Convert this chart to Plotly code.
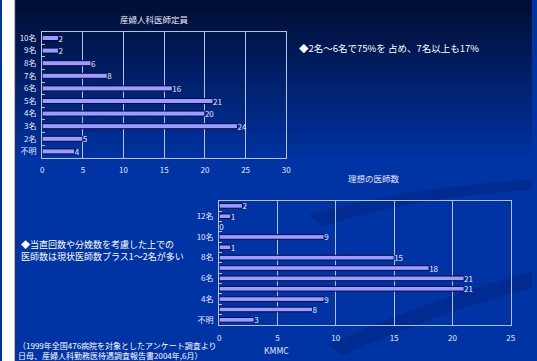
import plotly.graph_objects as go

W, H = 537, 361

# Chart 1: 産婦人科医師定員
cats1 = ["不明", "2名", "3名", "4名", "5名", "6名", "7名", "8名", "9名", "10名"]
vals1 = [4, 5, 24, 20, 21, 16, 8, 6, 2, 2]

# Chart 2: 理想の医師数
cats2 = ["不明", "3名", "4名", "5名", "6名", "7名", "8名", "9名", "10名", "11名", "12名", "13名以上"]
vals2 = [3, 8, 9, 21, 21, 18, 15, 1, 9, 0, 1, 2]
ticktext2 = ["不明", "", "4名", "", "6名", "", "8名", "", "10名", "", "12名", ""]

FONT = "Noto Sans CJK JP"
BAR = "#9c9cff"
BAR_LINE = "#0a0a40"
GRID = "#b8c0e8"
TXT = "#e8e8f8"

def px(x):
    return x / W

def py(y):
    return 1 - y / H

fig = go.Figure()
fig.add_trace(go.Bar(
    y=cats1, x=vals1, orientation="h", width=0.4,
    marker=dict(color=BAR, line=dict(color=BAR_LINE, width=1)),
    text=[str(v) for v in vals1], textposition="outside", cliponaxis=False,
    constraintext="none",
    textfont=dict(color=TXT, size=8, family=FONT),
    xaxis="x", yaxis="y", showlegend=False, hoverinfo="skip"))
fig.add_trace(go.Bar(
    y=cats2, x=vals2, orientation="h", width=0.45,
    marker=dict(color=BAR, line=dict(color=BAR_LINE, width=1)),
    text=[str(v) for v in vals2], textposition="outside", cliponaxis=False,
    constraintext="none",
    textfont=dict(color=TXT, size=8, family=FONT),
    xaxis="x2", yaxis="y2", showlegend=False, hoverinfo="skip"))

# background gradient
shapes = []
def lerp(a, b, t):
    return int(round(a + (b - a) * t))
c0 = (0x00, 0x0e, 0x33)
c1 = (0x00, 0x31, 0x9e)
step = 6
for y in range(0, H, step):
    t = min(1.0, y / 150.0)
    c = tuple(lerp(c0[i], c1[i], t) for i in range(3))
    if y > 150:
        c = (0x00, 0x33, 0xa3)
    shapes.append(dict(type="rect", xref="paper", yref="paper", layer="below",
                       x0=0, x1=1, y0=py(min(H, y + step + 1)), y1=py(y),
                       fillcolor="rgb(%d,%d,%d)" % c, line=dict(width=0)))
# swoosh decoration
shapes.append(dict(type="path", xref="paper", yref="paper", layer="below",
                   path="M %f %f Q %f %f %f %f L %f %f Q %f %f %f %f Z" % (
                       px(310), py(215), px(420), py(185), px(537), py(180),
                       px(537), py(190), px(420), py(196), px(325), py(226)),
                   fillcolor="rgba(0,20,90,0.25)", line=dict(width=0)))
shapes.append(dict(type="path", xref="paper", yref="paper", layer="below",
                   path="M %f %f Q %f %f %f %f L %f %f Q %f %f %f %f Z" % (
                       px(330), py(345), px(430), py(300), px(537), py(272),
                       px(537), py(288), px(440), py(313), px(345), py(355)),
                   fillcolor="rgba(0,20,90,0.25)", line=dict(width=0)))
# white strip at left
shapes.append(dict(type="rect", xref="paper", yref="paper", layer="below",
                   x0=0, x1=px(13), y0=0, y1=1, fillcolor="white", line=dict(width=0)))
shapes.append(dict(type="line", xref="paper", yref="paper", layer="below",
                   x0=px(13.5), x1=px(13.5), y0=0, y1=1, line=dict(color="#303040", width=1)))

ax_common = dict(showgrid=True, gridcolor=GRID, gridwidth=1, showline=True, linecolor=GRID,
                 linewidth=1, mirror=True, zeroline=False, ticks="", ticklabelstandoff=5,
                 tickfont=dict(color=TXT, size=8, family=FONT), fixedrange=True)
y_common = dict(showgrid=False, showline=True, linecolor=GRID, linewidth=1, mirror=True,
                ticks="inside", tickson="boundaries", ticklen=3, tickcolor=GRID,
                ticklabelstandoff=3,
                tickfont=dict(color=TXT, size=8, family=FONT), fixedrange=True)

def ann(text, x, y, size, xanchor="center", color=TXT):
    return dict(text=text, x=px(x), y=py(y), xref="paper", yref="paper",
                xanchor=xanchor, yanchor="middle", align="left", showarrow=False,
                font=dict(color=color, size=size, family=FONT))

annotations = [
    ann("産婦人科医師定員", 155, 19, 8.5),
    ann("理想の医師数", 377, 178, 8.5),
    ann("◆2名～6名で75%を 占め、7名以上も17%", 299, 48, 9.5, "left", "white"),
    ann("◆当直回数や分娩数を考慮した上での<br>医師数は現状医師数プラス1～2名が多い", 17, 250, 9, "left", "white"),
    ann("（1999年全国476病院を対象としたアンケート調査より<br>日母、産婦人科勤務医待遇調査報告書2004年,6月）", 14, 350, 8, "left", "white"),
    ann("KMMC", 278, 350, 8.5),
]

fig.update_layout(
    width=W, height=H, margin=dict(l=0, r=0, t=0, b=0),
    paper_bgcolor="#0033a3", plot_bgcolor="rgba(0,0,0,0)",
    bargap=0.6, shapes=shapes, annotations=annotations,
    font=dict(family=FONT),
    xaxis=dict(domain=[px(40.7), px(288)], anchor="y", range=[0, 30], dtick=5, **ax_common),
    yaxis=dict(domain=[py(157.7), py(31.7)], anchor="x", type="category",
               categoryorder="array", categoryarray=cats1, **y_common),
    xaxis2=dict(domain=[px(220), px(515.5)], anchor="y2", range=[0, 25], dtick=5, **ax_common),
    yaxis2=dict(domain=[py(325), py(200.7)], anchor="x2", type="category",
                categoryorder="array", categoryarray=cats2,
                tickmode="array", tickvals=cats2, ticktext=ticktext2, **y_common),
)

fig.write_html("out.html")
